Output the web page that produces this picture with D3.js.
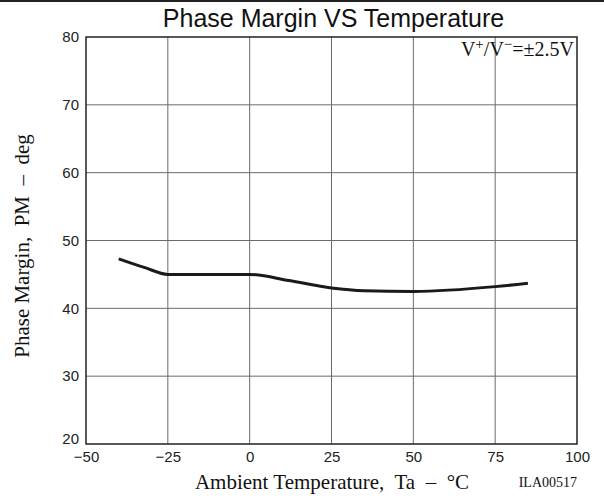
<!DOCTYPE html>
<html>
<head>
<meta charset="utf-8">
<script src="https://cdn.jsdelivr.net/npm/d3@7"></script>
<style>
  body { margin: 0; background: #fff; }
  svg { display: block; }
</style>
</head>
<body>
<script>
"use strict";

// chart data
var temps = [-40, -32, -25, 0, 12, 25, 35, 50, 75, 85];
var phaseMargin = [47.3, 46.0, 45.0, 45.0, 44.1, 43.0, 42.6, 42.5, 43.2, 43.7];
var xTicks = [-50, -25, 0, 25, 50, 75, 100];
var yTicks = [20, 30, 40, 50, 60, 70, 80];

var WIDTH = 604, HEIGHT = 499;
var MARGIN = { TOP: 37, RIGHT: 27, BOTTOM: 55, LEFT: 86 };
var SANS = "'Liberation Sans', Arial, sans-serif";
var SERIF = "'Liberation Serif', 'Times New Roman', serif";

var svg = d3.select("body").append("svg")
    .attr("width", WIDTH)
    .attr("height", HEIGHT);

var x = d3.scaleLinear().domain([-50, 100]).range([MARGIN.LEFT, WIDTH - MARGIN.RIGHT]);
var y = d3.scaleLinear().domain([20, 80]).range([HEIGHT - MARGIN.BOTTOM, MARGIN.TOP]);

// top rule across the page
svg.append("line")
    .attr("x1", 0).attr("x2", WIDTH)
    .attr("y1", 1).attr("y2", 1)
    .attr("stroke", "#222").attr("stroke-width", 2);

// title
svg.append("text")
    .attr("x", (x(-50) + x(100)) / 2 + 2)
    .attr("y", 27)
    .attr("text-anchor", "middle")
    .style("font-family", SANS)
    .style("font-size", "25px")
    .attr("fill", "#111")
    .text("Phase Margin VS Temperature");

// grid lines
svg.append("g").selectAll("line")
    .data(xTicks.slice(1, -1))
    .enter().append("line")
    .attr("x1", function(d) { return x(d); })
    .attr("x2", function(d) { return x(d); })
    .attr("y1", y(20)).attr("y2", y(80))
    .attr("stroke", "#6a6a6a").attr("stroke-width", 1);

svg.append("g").selectAll("line")
    .data(yTicks.slice(1, -1))
    .enter().append("line")
    .attr("x1", x(-50)).attr("x2", x(100))
    .attr("y1", function(d) { return y(d); })
    .attr("y2", function(d) { return y(d); })
    .attr("stroke", "#6a6a6a").attr("stroke-width", 1);

// tick labels via d3 axes (no tick marks)
var xAxis = svg.append("g")
    .attr("transform", "translate(0," + y(20) + ")")
    .call(d3.axisBottom(x).tickValues(xTicks).tickSize(0).tickPadding(7)
        .tickFormat(function(d) { return d < 0 ? "\u2212" + Math.abs(d) : d; }));
var yAxis = svg.append("g")
    .attr("transform", "translate(" + x(-50) + ",0)")
    .call(d3.axisLeft(y).tickValues(yTicks).tickSize(0).tickPadding(7));

[xAxis, yAxis].forEach(function(a) {
    a.select(".domain").remove();
    a.selectAll("text")
        .style("font-family", SANS)
        .style("font-size", "15px")
        .attr("fill", "#222");
});

// the bottom label "20" sits a little above its line
yAxis.selectAll(".tick")
    .filter(function(d) { return d == 20; })
    .select("text")
    .attr("y", -5);

// frame
svg.append("rect")
    .attr("x", x(-50)).attr("y", y(80))
    .attr("width", x(100) - x(-50))
    .attr("height", y(20) - y(80))
    .attr("fill", "none")
    .attr("stroke", "#222").attr("stroke-width", 1.5);

// curve
var line = d3.line()
    .x(function(d, i) { return x(temps[i]); })
    .y(function(d) { return y(d); })
    .curve(d3.curveMonotoneX);

svg.append("path")
    .datum(phaseMargin)
    .attr("d", line)
    .attr("fill", "none")
    .attr("stroke", "#1a1a1a")
    .attr("stroke-width", 3);

// annotation V+/V- = ±2.5V
var note = svg.append("text")
    .attr("x", x(100) - 3)
    .attr("y", 56)
    .attr("text-anchor", "end")
    .style("font-family", SERIF)
    .style("font-size", "20px")
    .attr("fill", "#111");
note.append("tspan").text("V");
note.append("tspan").attr("dy", -7).style("font-size", "15px").text("+");
note.append("tspan").attr("dy", 7).text("/V");
note.append("tspan").attr("dy", -7).style("font-size", "15px").text("\u2212");
note.append("tspan").attr("dy", 7).text("=\u00b12.5V");

// axis titles
svg.append("text")
    .attr("transform", "translate(29," + 246 + ") rotate(-90)")
    .attr("text-anchor", "middle")
    .style("font-family", SERIF)
    .style("font-size", "21px")
    .attr("fill", "#111")
    .attr("xml:space", "preserve")
    .text("Phase Margin,  PM  \u2013  deg");

svg.append("text")
    .attr("x", 332)
    .attr("y", 489)
    .attr("text-anchor", "middle")
    .style("font-family", SERIF)
    .style("font-size", "21px")
    .attr("fill", "#111")
    .attr("xml:space", "preserve")
    .text("Ambient Temperature,  Ta  \u2013  \u00b0C");

svg.append("text")
    .attr("x", x(100))
    .attr("y", 487)
    .attr("text-anchor", "end")
    .style("font-family", SERIF)
    .style("font-size", "14px")
    .attr("fill", "#111")
    .text("ILA00517");
</script>
</body>
</html>
